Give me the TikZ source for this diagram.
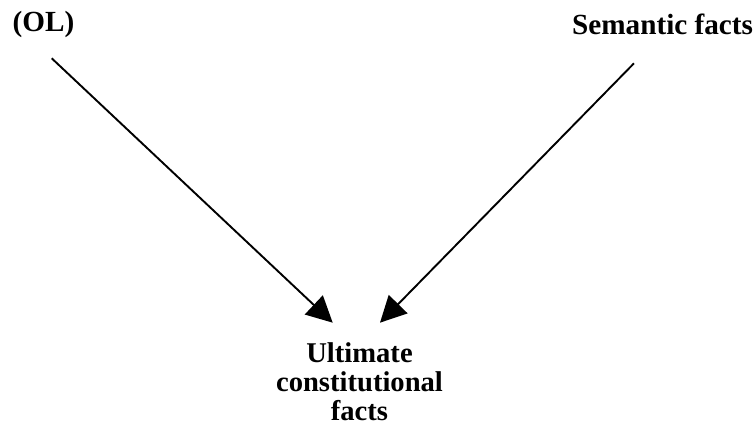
\documentclass[tikz,border=0pt]{standalone}
\usepackage{fontspec}
\setmainfont{Liberation Serif}
\usetikzlibrary{arrows.meta}
\begin{document}
\begin{tikzpicture}[x=1bp,y=1bp,
  lbl/.style={inner sep=0pt,font=\bfseries\fontsize{28.6bp}{29bp}\selectfont},
  toplbl/.style={inner sep=0pt,font=\bfseries\fontsize{29.2bp}{30bp}\selectfont},
  conn/.style={line width=1.9bp,-{Triangle[length=26bp,width=26bp]}}]
\useasboundingbox (0,0) rectangle (756,437);
\node[toplbl,anchor=base west] (ol) at (12.5,405) {(OL)};
\node[toplbl,anchor=base west] (sem) at (572,402) {Semantic facts};
\node[lbl,anchor=base,align=center] (ult) at (359.5,16) {Ultimate\\constitutional\\facts};
\coordinate (s1) at (51.7,378.7);
\coordinate (t1) at (332.7,114.3);
\coordinate (s2) at (634,373.7);
\coordinate (t2) at (380,114.3);
\draw[conn] (s1) -- (t1);
\draw[conn] (s2) -- (t2);
\end{tikzpicture}
\end{document}
